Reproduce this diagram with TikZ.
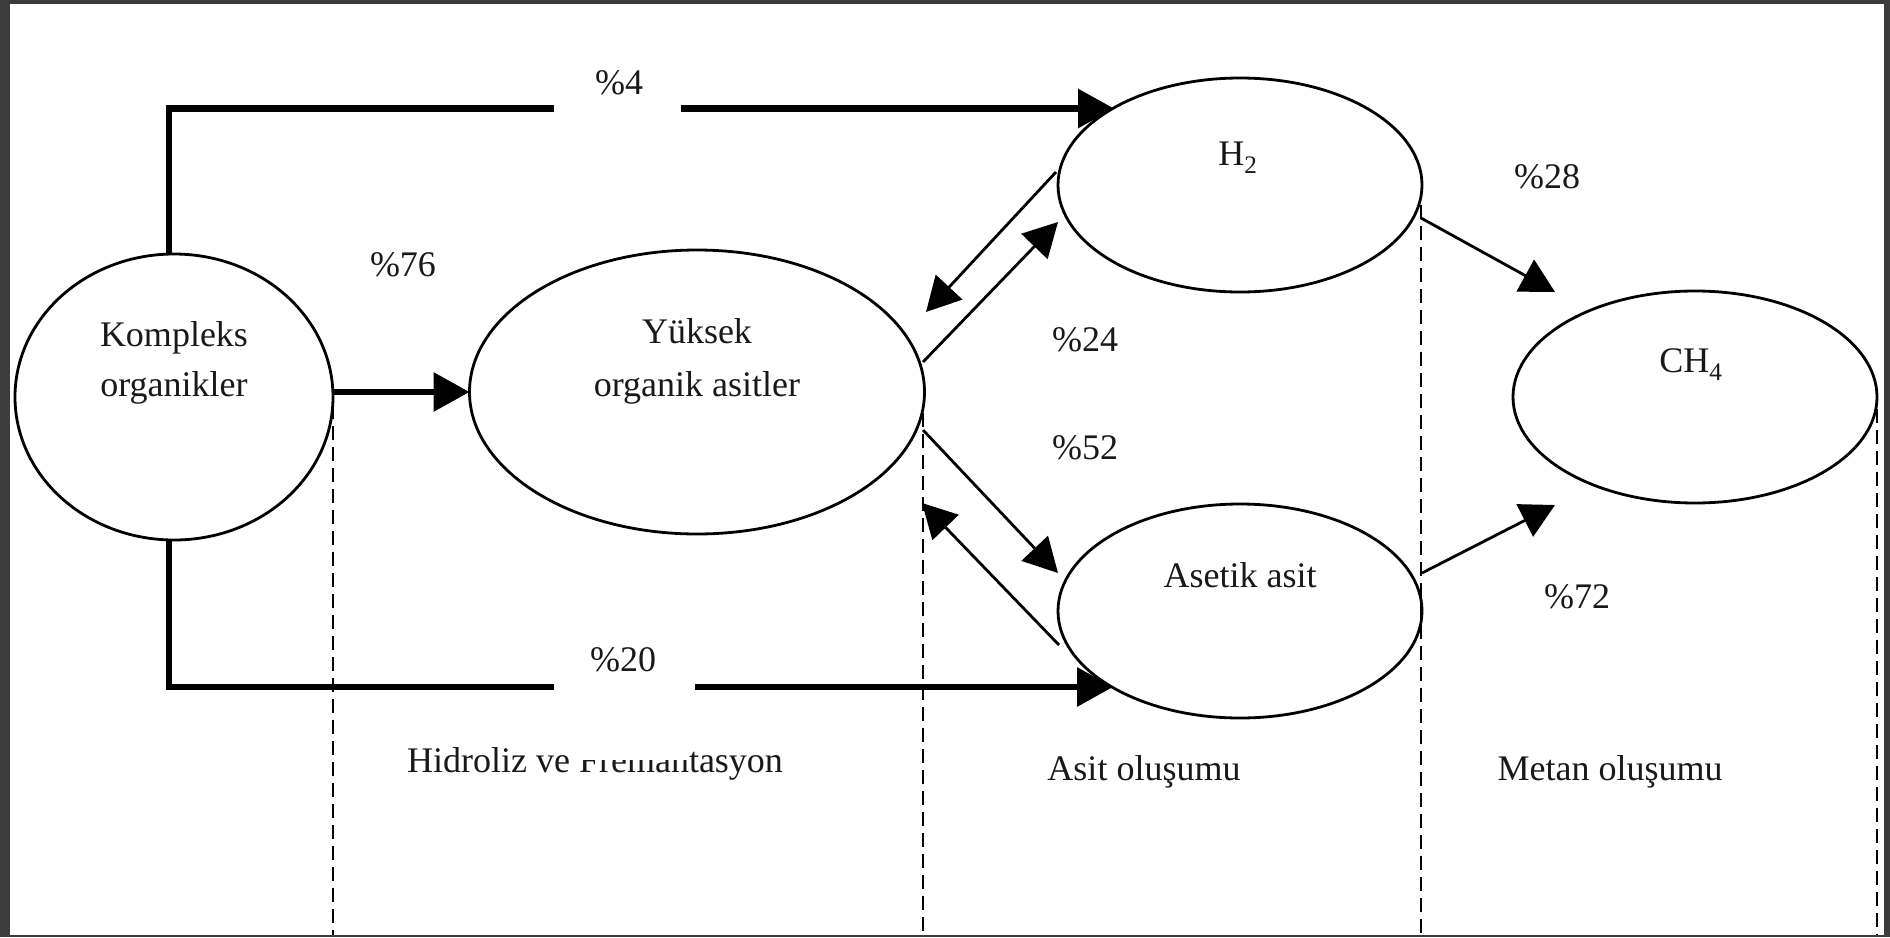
\documentclass[tikz,border=0pt]{standalone}
\usepackage{fontspec}
\setmainfont{Liberation Serif}
\usetikzlibrary{arrows.meta,shapes.geometric}
\begin{document}
\begin{tikzpicture}[x=1pt,y=-1pt,
  ell/.style={draw, ellipse, line width=2.8pt, inner sep=0pt, outer sep=0pt},
  lbl/.style={font=\fontsize{36}{44}\selectfont, inner sep=0pt, text=black!90},
  thickln/.style={line width=6.5pt},
  thinln/.style={line width=2.8pt},
  bigtip/.style={-{Triangle[length=36pt,width=38pt]}},
  smalltip/.style={-{Triangle[length=34pt,width=36pt]}},
  dashln/.style={line width=2.5pt, dash pattern=on 14pt off 7pt}]
\fill[fill={rgb,255:red,60;green,60;blue,60}] (0,0) rectangle (1890,937);
\fill[white] (10,4) rectangle (1884,935);
\useasboundingbox (0,0) rectangle (1890,937);

% ellipses
\node[ell, minimum width=318pt, minimum height=286pt] (kom) at (174,397) {};
\node[ell, minimum width=455pt, minimum height=284pt] (yuk) at (697,392) {};
\node[ell, minimum width=364pt, minimum height=214pt] (h2) at (1240,185) {};
\node[ell, minimum width=364pt, minimum height=214pt] (ase) at (1240,611) {};
\node[ell, minimum width=364pt, minimum height=212pt] (ch4) at (1695,397) {};

% labels in ellipses
\node[lbl, anchor=base] (kom1) at (174,346) {Kompleks};
\node[lbl, anchor=base] (kom2) at (174,396) {organikler};
\node[lbl, anchor=base] (yuk1) at (697,343) {Yüksek};
\node[lbl, anchor=base] (yuk2) at (697,396) {organik asitler};
\node[lbl, anchor=base] (h2l) at (1238,165) {H\textsubscript{2}};
\node[lbl, anchor=base] (ch4l) at (1691,372) {CH\textsubscript{4}};
\node[lbl, anchor=base] (asl) at (1240,587) {Asetik asit};

% percentages
\node[lbl] (p4) at (619,83) {\%4};
\node[lbl] (p76) at (403,265) {\%76};
\node[lbl] (p24) at (1085,340) {\%24};
\node[lbl] (p52) at (1085,448) {\%52};
\node[lbl] (p20) at (623,660) {\%20};
\node[lbl] (p28) at (1547,177) {\%28};
\node[lbl] (p72) at (1577,597) {\%72};

% phase labels
\node[lbl, anchor=base] (ph1) at (595,772) {Hidroliz ve Fremantasyon};
\node[lbl, anchor=base] (ph2) at (1144,780) {Asit oluşumu};
\node[lbl, anchor=base] (ph3) at (1610,780) {Metan oluşumu};
% the reference cuts off the top of part of this label
\fill[white] (577,728) rectangle (688,760);

% coordinates
\coordinate (g1) at (554,108.5);
\coordinate (g2) at (681,108.5);
\coordinate (t1) at (1114,108.5);
\coordinate (g3) at (554,687);
\coordinate (g4) at (695,687);
\coordinate (t2) at (1113,687);
\coordinate (a1) at (1056,172);
\coordinate (a1t) at (926,312);
\coordinate (a2) at (923,362);
\coordinate (a2t) at (1058,222);
\coordinate (a3) at (923,430);
\coordinate (a3t) at (1058,573);
\coordinate (a4) at (1059,645);
\coordinate (a4t) at (922,503);
\coordinate (b1) at (1421,218);
\coordinate (b1t) at (1555,292);
\coordinate (b2) at (1422,573);
\coordinate (b2t) at (1555,505);

% thick paths
\draw[thickln] ([xshift=-5pt]kom.north) |- (g1);
\draw[thickln, bigtip] (g2) -- (t1);
\draw[thickln] ([xshift=-5pt]kom.south) |- (g3);
\draw[thickln, bigtip] (g4) -- (t2);
\draw[thickln, bigtip] (kom.east |- yuk.west) -- (yuk.west);

% thin arrows
\draw[thinln, smalltip] (a1) -- (a1t);
\draw[thinln, smalltip] (a2) -- (a2t);
\draw[thinln, smalltip] (a3) -- (a3t);
\draw[thinln, smalltip] (a4) -- (a4t);
\draw[thinln, smalltip] (b1) -- (b1t);
\draw[thinln, smalltip] (b2) -- (b2t);

% dashed separators
\coordinate (d1) at (333,405);
\coordinate (d1b) at (333,935);
\coordinate (d2) at (923,413);
\coordinate (d2b) at (923,935);
\coordinate (d3) at (1421,205);
\coordinate (d3b) at (1421,935);
\coordinate (d4) at (1877,388);
\coordinate (d4b) at (1877,935);
\draw[dashln] (d1) -- (d1b);
\draw[dashln] (d2) -- (d2b);
\draw[dashln] (d3) -- (d3b);
\draw[dashln] (d4) -- (d4b);
\end{tikzpicture}
\end{document}
